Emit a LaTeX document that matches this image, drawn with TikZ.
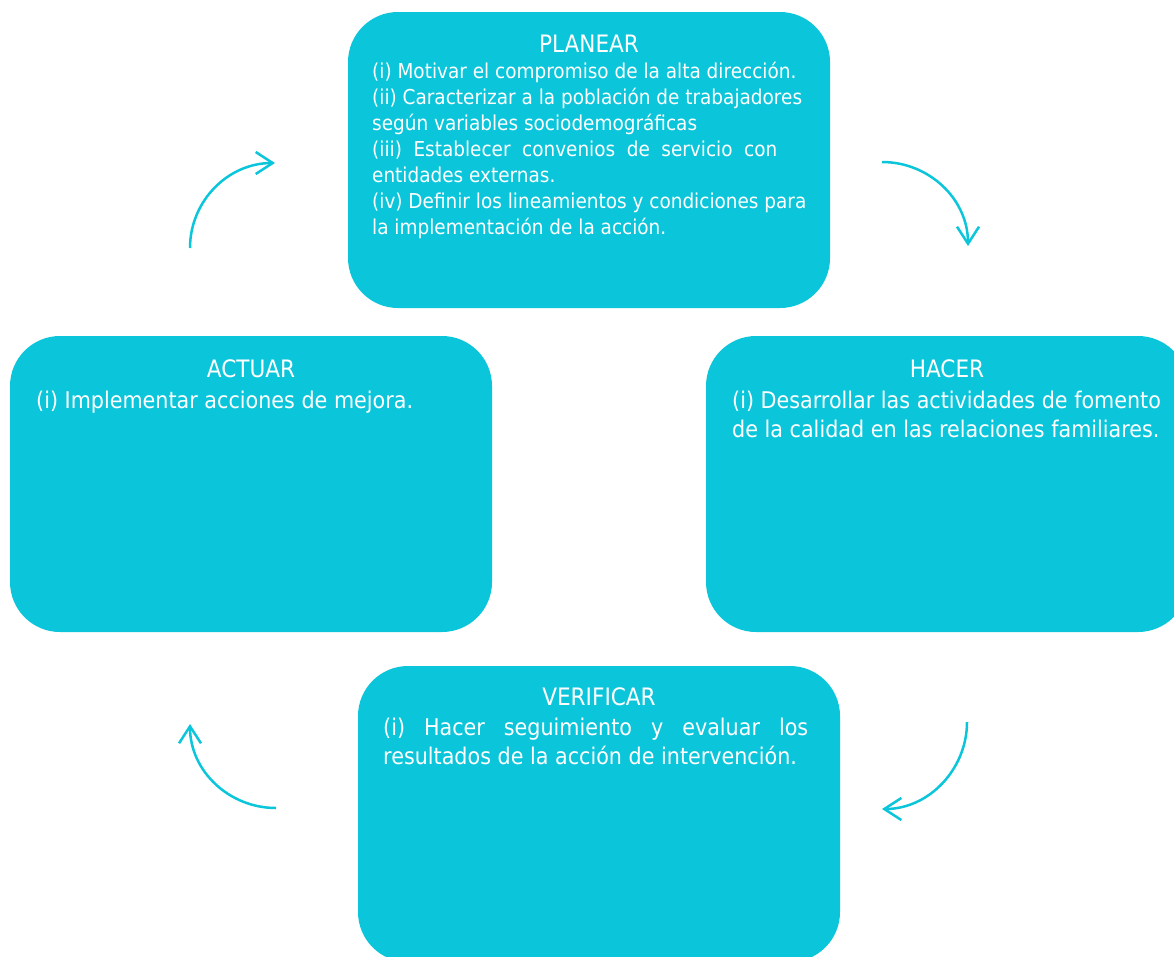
\documentclass[tikz,border=0pt]{standalone}
\usepackage{fontspec}
\setmainfont{DejaVu Sans}[FakeStretch=0.9]
\usetikzlibrary{arrows.meta}
\definecolor{cyanbox}{RGB}{11,198,218}
\begin{document}
\begin{tikzpicture}[x=1pt,y=-1pt,
 box/.style={fill=cyanbox, rounded corners=50pt, minimum width=482pt, minimum height=296pt, anchor=north west, inner sep=0pt, outer sep=0pt},
 title/.style={text=white, font=\fontsize{24}{29}\selectfont, anchor=base, inner sep=0pt},
 smalltxt/.style={text=white, font=\fontsize{20.5}{26}\selectfont, anchor=base west, inner sep=0pt},
 bigtxt/.style={text=white, font=\fontsize{23}{28}\selectfont, anchor=base west, inner sep=0pt},
 cyc/.style={draw=cyanbox, line width=2.5pt, -{Straight Barb[length=17pt,width=22pt]}}
]
\useasboundingbox (0,0) rectangle (1174,956);
\clip (0,0) rectangle (1174,956);

% boxes
\node[box] (plan) at (348,12) {};
\node[box] (act) at (10,336) {};
\node[box] (hac) at (706,336) {};
\node[box] (ver) at (358,666) {};

% PLANEAR
\node[title] (plant) at (589,52) {PLANEAR};
\node[smalltxt] (p1) at (372,78) {(i) Motivar el compromiso de la alta dirección.};
\node[smalltxt] (p2) at (372,104) {(ii) Caracterizar a la población de trabajadores};
\node[smalltxt] (p3) at (372,130) {según variables sociodemográficas};
\node[smalltxt] (p4) at (372,156) {\makebox[405pt][s]{(iii) Establecer convenios de servicio con}};
\node[smalltxt] (p5) at (372,182) {entidades externas.};
\node[smalltxt] (p6) at (372,208) {(iv) Definir los lineamientos y condiciones para};
\node[smalltxt] (p7) at (372,234) {la implementación de la acción.};

% ACTUAR
\node[title] (actt) at (251,377) {ACTUAR};
\node[bigtxt] (a1) at (36,408) {(i) Implementar acciones de mejora.};

% HACER
\node[title] (hact) at (947,377) {HACER};
\node[bigtxt] (h1) at (732,408) {(i) Desarrollar las actividades de fomento};
\node[bigtxt] (h2) at (732,437) {de la calidad en las relaciones familiares.};

% VERIFICAR
\node[title] (vert) at (599,705) {VERIFICAR};
\node[bigtxt] (v1) at (383,735) {\makebox[425pt][s]{(i) Hacer seguimiento y evaluar los}};
\node[bigtxt] (v2) at (383,764) {resultados de la acción de intervención.};

% cycle arrows
\coordinate (c1s) at (190,248);
\coordinate (c1e) at (275,163);
\coordinate (c2s) at (882,162);
\coordinate (c2e) at (968,246);
\coordinate (c3s) at (967,722);
\coordinate (c3e) at (882,809);
\coordinate (c4s) at (276,808);
\coordinate (c4e) at (190,724);
\draw[cyc] (c1s) .. controls +(0,-47) and +(-47,0) .. (c1e);
\draw[cyc] (c2s) .. controls +(47,0) and +(0,-47) .. (c2e);
\draw[cyc] (c3s) .. controls +(0,47) and +(47,0) .. (c3e);
\draw[cyc] (c4s) .. controls +(-47,0) and +(0,47) .. (c4e);
\end{tikzpicture}
\end{document}
